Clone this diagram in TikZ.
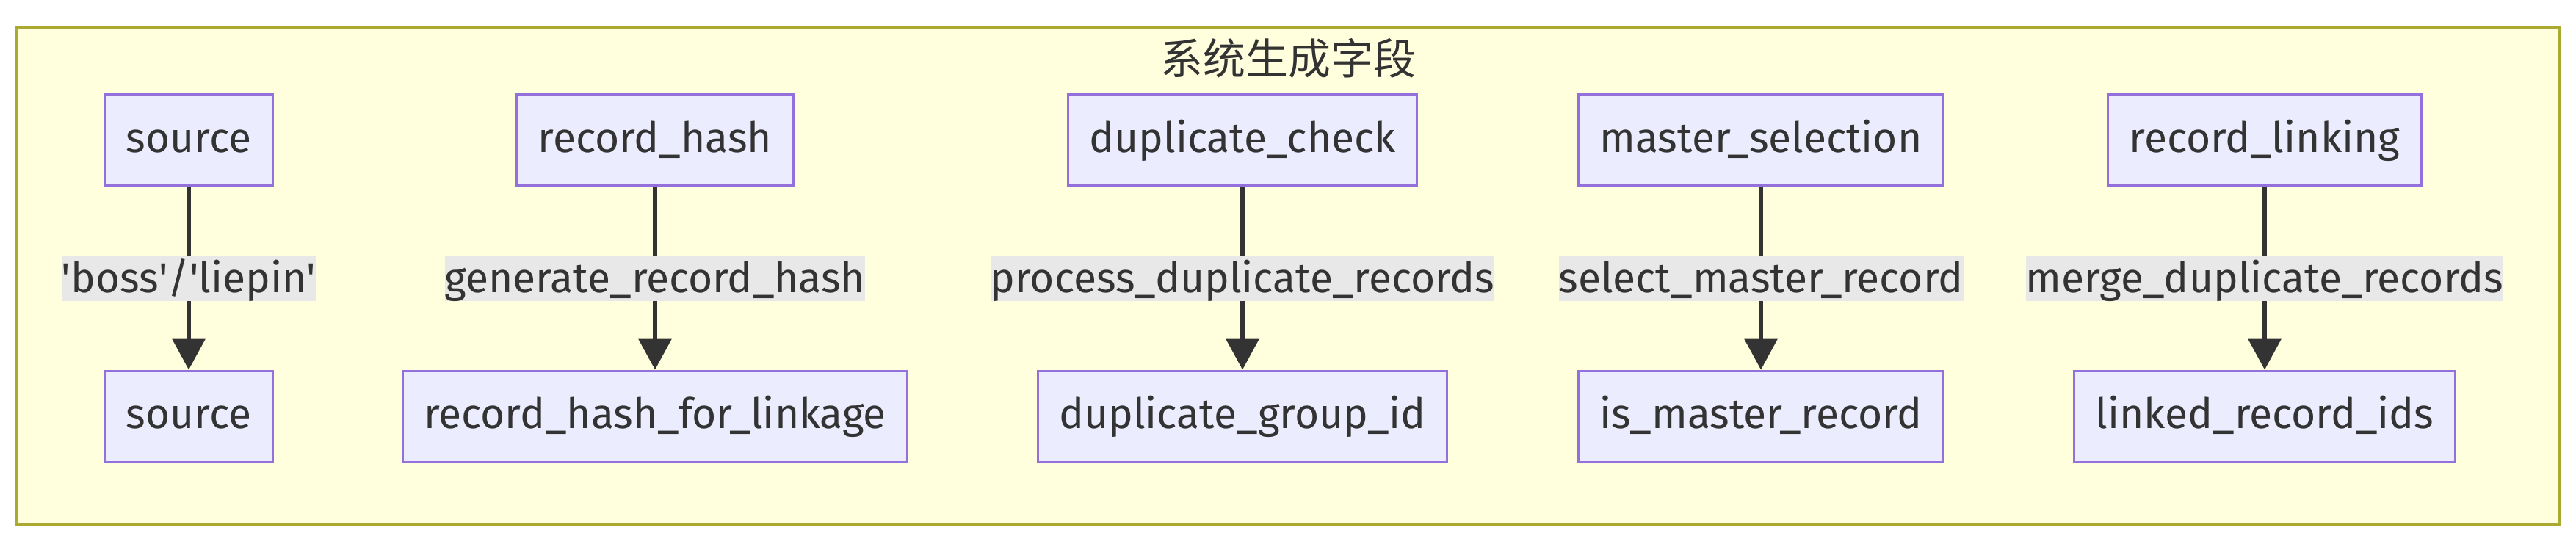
\documentclass[tikz,border=0pt]{standalone}
\usepackage{fontspec}
\setmainfont{Fira Sans}
\newfontfamily\cjkfont{Noto Sans CJK SC}
\usetikzlibrary{arrows.meta, positioning}
\definecolor{clusterfill}{HTML}{FFFFDE}
\definecolor{clusterborder}{HTML}{AAAA33}
\definecolor{fieldfill}{HTML}{ECECFF}
\definecolor{fieldborder}{HTML}{9370DB}
\definecolor{labelgray}{HTML}{E8E8E8}
\definecolor{inkgray}{HTML}{333333}
\newcommand{\us}{\_}
\newcommand{\q}{\textquotesingle}
\tikzset{
  field/.style={draw=fieldborder, fill=fieldfill, line width=0.9pt, minimum height=1.24cm, inner xsep=0.29cm, text height=0.45cm, text depth=0.12cm, text=inkgray, font=\fontsize{16.2}{20}\selectfont},
  rulelabel/.style={fill=labelgray, inner sep=0pt, text height=0.5cm, text depth=0.11cm, text=inkgray, font=\fontsize{16.2}{20}\selectfont},
  flow/.style={-{Triangle[length=0.42cm, width=0.44cm]}, line width=1.7pt, draw=inkgray}
}

\begin{document}
\begin{tikzpicture}
  \useasboundingbox (0,0) rectangle (35.08,-7.44);
  \draw[line width=0.9pt, clusterborder, fill=clusterfill] (0.22,-0.38) rectangle (34.85,-7.14);
  \node[text=inkgray, font=\cjkfont\fontsize{16.5}{20}\selectfont] (title) at (17.54,-0.79) {系统生成字段};

  \node[field] (srcIn) at (2.57,-1.91) {source};
  \node[field, below=2.49cm of srcIn] (srcOut) {source};
  \node[field] (hashIn) at (8.92,-1.91) {record\us hash};
  \node[field, below=2.49cm of hashIn] (hashOut) {record\us hash\us for\us linkage};
  \node[field] (dupIn) at (16.92,-1.91) {duplicate\us check};
  \node[field, below=2.49cm of dupIn] (dupOut) {duplicate\us group\us id};
  \node[field] (masterIn) at (23.98,-1.91) {master\us selection};
  \node[field, below=2.49cm of masterIn] (masterOut) {is\us master\us record};
  \node[field] (linkIn) at (30.84,-1.91) {record\us linking};
  \node[field, below=2.49cm of linkIn] (linkOut) {linked\us record\us ids};

  \draw[flow] (srcIn) -- node[rulelabel] {\q boss\q/\q liepin\q} (srcOut);
  \draw[flow] (hashIn) -- node[rulelabel] {generate\us record\us hash} (hashOut);
  \draw[flow] (dupIn) -- node[rulelabel] {process\us duplicate\us records} (dupOut);
  \draw[flow] (masterIn) -- node[rulelabel] {select\us master\us record} (masterOut);
  \draw[flow] (linkIn) -- node[rulelabel] {merge\us duplicate\us records} (linkOut);
\end{tikzpicture}
\end{document}
